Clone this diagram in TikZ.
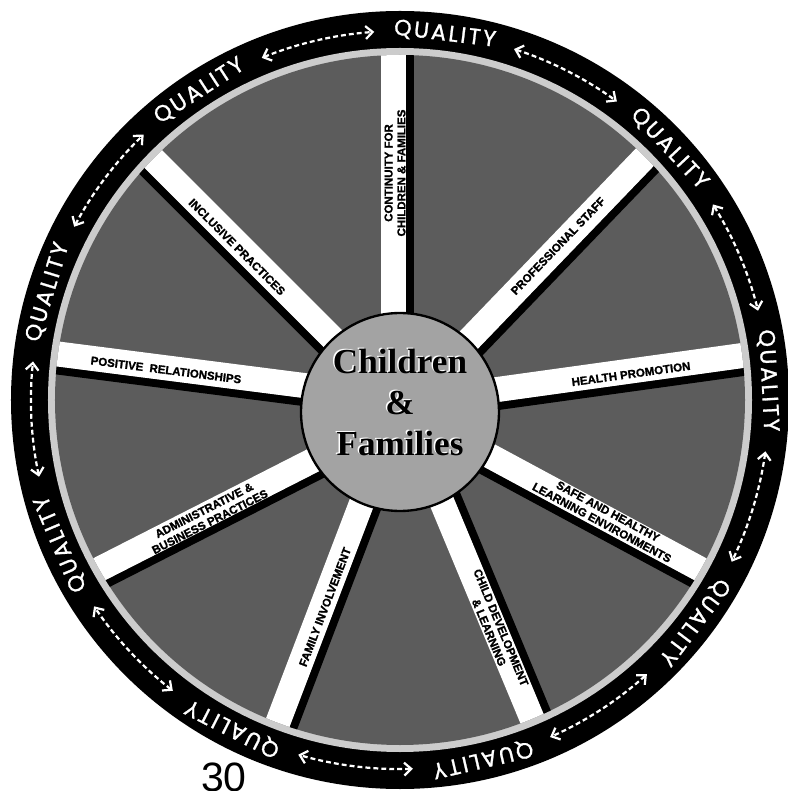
\documentclass[tikz,border=0pt]{standalone}
\usepackage{fontspec}
\setmainfont{Liberation Sans}
\newfontfamily\spokefont{Liberation Sans}[BoldFeatures={FakeBold=1.3}]
\newfontfamily\qualfont{Poppins}[FakeBold=1.2, LetterSpace=11]
\newfontfamily\hubfont{Liberation Serif}
\usepackage{tikz}
\usetikzlibrary{arrows.meta}

\definecolor{sectorgray}{gray}{0.36}
\definecolor{hubgray}{gray}{0.64}
\definecolor{bandgray}{gray}{0.80}

\begin{document}
\begin{tikzpicture}[x=0.03cm, y=0.03cm,
  quality/.style={font=\qualfont\fontsize{19}{19}\selectfont, text=white, inner sep=0pt, text depth=0pt},
  qarrow/.style={draw=white, line width=1.9pt, dash pattern=on 4.2pt off 2.6pt,
    >={Straight Barb[length=6pt,width=11pt]}, <->},
  spokelabel/.style={font=\spokefont\bfseries\fontsize{9.8}{11}\selectfont, align=center, inner sep=0pt},
  hubtxt/.style={font=\hubfont\bfseries\fontsize{30}{35}\selectfont, align=center, inner sep=0pt}
]
  \useasboundingbox (-400,-391) rectangle (387,400);

  % Ring
  \fill[black] (0,0) circle[radius=389];
  \fill[bandgray] (0,0) circle[radius=352];
  \fill[sectorgray] (0,0) circle[radius=345];

  % Spokes (white bar + black edge)
  \begin{scope}
    \clip (0,0) circle[radius=345];
    \foreach \bx/\by/\ang/\sd in {-6.5/0/90/-1, 0/-11.6/46.1/-1, 0/-3/7.9/-1,
        0/-7.5/-28.3/-1, 0/-1.5/-67.4/1, 0/-2.5/-110.9/1, 0/-16/207/1,
        0/2.2/172.7/1, 0/-5.7/135/1} {
      \begin{scope}[shift={(\bx,\by)}, rotate=\ang]
        \fill[black] (0,{\sd*12.5}) rectangle (360,{\sd*20.5});
        \fill[white] (0,-12.5) rectangle (360,12.5);
      \end{scope}
    }
  \end{scope}

  % Hub
  \draw[line width=2pt, fill=hubgray] (0,-12) circle[radius=99];
  \node[hubtxt, text=white] (hubglow) at (-1.5,-1) {Children\\\&\\Families};
  \node[hubtxt] (hubtext) at (0,-2.5) {Children\\\&\\Families};

  % Spoke labels
  \node[spokelabel, rotate=90] (lcont) at (-5,227) {CONTINUITY FOR\\CHILDREN \& FAMILIES};
  \node[spokelabel, rotate=46.1] (lstaff) at (158,154) {PROFESSIONAL STAFF};
  \node[spokelabel, rotate=7.9] (lhealth) at (231,26) {HEALTH PROMOTION};
  \node[spokelabel, rotate=-28.3] (lsafe) at (205,-117) {SAFE AND HEALTHY\\LEARNING ENVIRONMENTS};
  \node[spokelabel, rotate=-67.4] (lchild) at (95,-230) {CHILD DEVELOPMENT\\\& LEARNING};
  \node[spokelabel, rotate=69.1] (lfamily) at (-75,-207) {FAMILY INVOLVEMENT};
  \node[spokelabel, rotate=27] (ladmin) at (-193,-116) {ADMINISTRATIVE \&\\BUSINESS PRACTICES};
  \node[spokelabel, rotate=-7.3] (lpos) at (-234,30) {POSITIVE~~RELATIONSHIPS};
  \node[spokelabel, rotate=-45] (lincl) at (-163,153) {INCLUSIVE PRACTICES};

  % QUALITY round the ring
  \foreach \i in {0,...,8} {
    \pgfmathsetmacro\qa{83-40*\i}
    \node[quality, rotate=\qa-90] (q\i) at (\qa:370) {QUALITY};
  }
  \foreach \i in {0,...,8} {
    \pgfmathsetmacro\aa{63-40*\i+9}
    \pgfmathsetmacro\ab{63-40*\i-9}
    \draw[qarrow] (\aa:369) arc[start angle=\aa, end angle=\ab, radius=369];
  }

  % page number
  \node[font=\fontsize{35}{35}\selectfont, anchor=north, inner sep=0pt] (pagenum) at (-176,-363) {30};
\end{tikzpicture}
\end{document}
